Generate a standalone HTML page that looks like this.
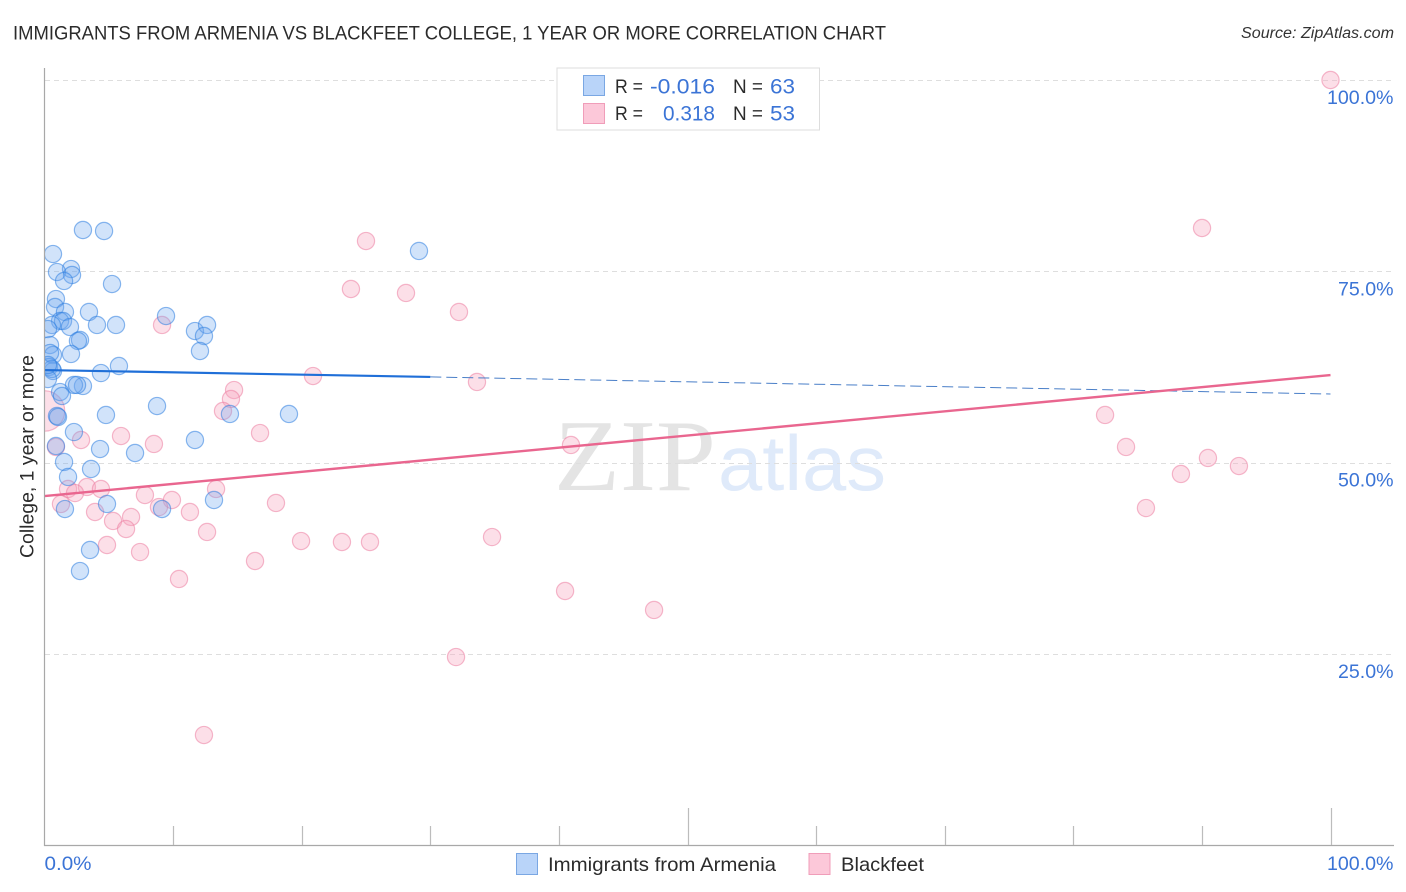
<!DOCTYPE html>
<html lang="en">
<head>
<meta charset="utf-8">
<title>Immigrants from Armenia vs Blackfeet College Correlation Chart</title>
<style>
html,body{margin:0;padding:0;background:#fff;width:1406px;height:892px;overflow:hidden}
svg{display:block;font-family:"Liberation Sans",sans-serif}
</style>
</head>
<body>
<svg id="chart" width="1406" height="892" viewBox="0 0 1406 892" xmlns="http://www.w3.org/2000/svg">
  <defs><clipPath id="plot-clip"><rect x="45" y="68" width="1349" height="777"/></clipPath></defs>
  <text x="13" y="39.5" font-size="19" fill="#2b2b2b" textLength="873" lengthAdjust="spacingAndGlyphs">IMMIGRANTS FROM ARMENIA VS BLACKFEET COLLEGE, 1 YEAR OR MORE CORRELATION CHART</text>
  <text x="1241" y="38" font-size="15.5" font-style="italic" fill="#333" textLength="153" lengthAdjust="spacingAndGlyphs">Source: ZipAtlas.com</text>
  <g id="watermark">
    <text x="554" y="490" font-family="'Liberation Serif',serif" font-size="102" fill="#e4e4e4" textLength="162" lengthAdjust="spacingAndGlyphs">ZIP</text>
    <text x="718" y="490" font-size="78" fill="#dfeafa" textLength="168" lengthAdjust="spacingAndGlyphs">atlas</text>
  </g>
  <g id="grid"></g>
  <g id="points" clip-path="url(#plot-clip)"></g>
  <g id="trends"></g>
  <g id="axes"></g>
  <g id="stat-legend">
    <rect x="557" y="68" width="262.5" height="62" fill="#fff" stroke="#ddd" stroke-width="1"/>
    <rect x="583.5" y="75.5" width="21" height="20" fill="#b9d4f9" stroke="#7aa7e3" stroke-width="1"/>
    <rect x="583.5" y="103.5" width="21" height="20" fill="#fcc8d9" stroke="#f09db9" stroke-width="1"/>
    <text x="615" y="93" font-size="19" fill="#2b2b2b" textLength="28" lengthAdjust="spacingAndGlyphs">R =</text>
    <text x="650" y="93.5" font-size="21" fill="#3b74d6" textLength="65" lengthAdjust="spacingAndGlyphs">-0.016</text>
    <text x="733" y="93" font-size="19" fill="#2b2b2b" textLength="30" lengthAdjust="spacingAndGlyphs">N =</text>
    <text x="770" y="93.5" font-size="21" fill="#3b74d6" textLength="25" lengthAdjust="spacingAndGlyphs">63</text>
    <text x="615" y="120" font-size="19" fill="#2b2b2b" textLength="28" lengthAdjust="spacingAndGlyphs">R =</text>
    <text x="663" y="120.5" font-size="21" fill="#3b74d6" textLength="52" lengthAdjust="spacingAndGlyphs">0.318</text>
    <text x="733" y="120" font-size="19" fill="#2b2b2b" textLength="30" lengthAdjust="spacingAndGlyphs">N =</text>
    <text x="770" y="120.5" font-size="21" fill="#3b74d6" textLength="25" lengthAdjust="spacingAndGlyphs">53</text>
  </g>
  <text transform="translate(33.5,456.5) rotate(-90)" font-size="19" fill="#2b2b2b" text-anchor="middle" textLength="203" lengthAdjust="spacingAndGlyphs">College, 1 year or more</text>
  <g id="series-legend">
    <rect x="516.5" y="853.5" width="21" height="21" fill="#b9d4f9" stroke="#7aa7e3" stroke-width="1"/>
    <text x="548" y="871" font-size="19.5" fill="#2b2b2b" textLength="228" lengthAdjust="spacingAndGlyphs">Immigrants from Armenia</text>
    <rect x="809" y="853.5" width="21" height="21" fill="#fcc8d9" stroke="#f09db9" stroke-width="1"/>
    <text x="841" y="871" font-size="19.5" fill="#2b2b2b" textLength="83" lengthAdjust="spacingAndGlyphs">Blackfeet</text>
  </g>
</svg>
<script>
const armeniaX = [2.99,4.63,0.66,2.06,0.97,2.14,1.52,5.25,0.89,0.82,1.59,3.46,1.21,1.44,4.08,5.56,1.98,0.58,0.27,2.76,2.60,0.43,2.06,0.66,0.43,0.35,0.66,0.58,5.79,4.39,0.27,2.99,2.29,2.53,1.21,1.36,4.78,0.97,1.05,8.75,9.45,11.70,12.64,12.40,12.09,14.42,19.01,29.12,11.70,7.04,4.32,2.29,0.89,1.52,3.62,1.83,4.86,1.59,13.18,9.14,3.54,2.76,0.27];
const armeniaY = [80.40,80.27,77.26,75.30,74.91,74.52,73.74,73.34,71.38,70.34,69.69,69.69,68.51,68.51,67.99,67.99,67.73,67.99,67.46,66.03,65.90,65.37,64.20,64.07,64.33,62.50,61.98,62.24,62.63,61.71,60.93,60.02,60.15,60.15,59.23,58.71,56.23,56.10,55.97,57.40,69.16,67.20,67.99,66.55,64.59,56.36,56.36,77.66,52.96,51.26,51.78,54.00,52.18,50.09,49.17,48.13,44.60,43.94,45.12,43.94,38.59,35.84,62.76];
const blackfeetX = [100,90.01,25.0,23.83,28.11,32.23,9.14,20.88,33.63,14.74,14.5,13.88,82.47,84.10,40.94,16.76,5.95,2.84,8.51,0.89,90.47,92.88,88.37,85.65,13.34,3.30,4.39,1.83,2.37,1.28,7.81,9.91,8.90,11.31,18.0,3.93,6.73,5.33,6.34,12.64,4.86,7.43,16.37,10.46,19.95,23.13,25.31,34.80,40.48,47.40,32.0,12.40,0];
const blackfeetY = [100,80.66,78.96,72.69,72.17,69.69,67.99,61.32,60.54,59.49,58.32,56.75,56.23,52.05,52.31,53.87,53.48,52.96,52.44,52.05,50.61,49.56,48.52,44.07,46.56,46.82,46.56,46.56,46.03,44.60,45.77,45.12,44.20,43.55,44.73,43.55,42.90,42.38,41.33,40.94,39.24,38.32,37.15,34.80,39.76,39.63,39.63,40.28,33.23,30.75,24.60,14.41,56.75];
const blackfeetWeight = [1,1,1,1,1,1,1,1,1,1,1,1,1,1,1,1,1,1,1,1,1,1,1,1,1,1,1,1,1,1,1,1,1,1,1,1,1,1,1,1,1,1,1,1,1,1,1,1,1,1,1,1,2.35];
const armeniaTrend = [62.1, 61.2, 58.97];
const armeniaTrendX = [0, 30, 100];
const blackfeetTrend = [45.64, 61.45];
const blackfeetTrendX = [0, 100];
const xTickValues = [0,10,20,30,40,50,60,70,80,90,100];
const xMajorTicks = [0,50,100];
const xEdgeValues = [0,100];
const xEdgeLabels = ["0.0%","100.0%"];
const yTickValues = [25,50,75,100];
const yTickLabels = ["25.0%","50.0%","75.0%","100.0%"];

const NS = "http://www.w3.org/2000/svg";
const xScale = v => 44.5 + 12.86 * v;
const yScale = v => 845.3 - 7.653 * v;
function make(parent, tag, attrs){
  const el = document.createElementNS(NS, tag);
  for (const k in attrs) el.setAttribute(k, attrs[k]);
  parent.appendChild(el);
  return el;
}
const gridG = document.getElementById("grid");
const axesG = document.getElementById("axes");
const pointsG = document.getElementById("points");
const trendsG = document.getElementById("trends");

function labelWidth(s){ return s.length === 6 ? 66.5 : 55.5; }

yTickValues.forEach((v,i) => {
  const y = Math.round(yScale(v)) + 0.5;
  const line = make(gridG, "line", {x1:45, x2:1393, y1:y, y2:y, stroke:"#dedede", "stroke-width":1, "stroke-dasharray":"5 4"});
  
  
  const w = labelWidth(yTickLabels[i]);
  const label = make(axesG, "text", {x:1393.5 - w, y:yScale(v)+24, "font-size":19, fill:"#3b74d6", textLength:w, lengthAdjust:"spacingAndGlyphs"});
  label.textContent = yTickLabels[i];
  
  
});

const leftAxis = make(axesG, "line", {x1:44.5, x2:44.5, y1:68, y2:846, stroke:"#a8a8a8", "stroke-width":1.2});


const bottomAxis = make(axesG, "line", {x1:44, x2:1394, y1:845.5, y2:845.5, stroke:"#a8a8a8", "stroke-width":1.2});



xTickValues.forEach(v => {
  if (v === 0) return;
  const x = Math.round(xScale(v)) + 0.5;
  const tick = make(axesG, "line", {x1:x, x2:x, y1:xMajorTicks.includes(v) ? 808 : 826, y2:845, stroke:"#bcbcbc", "stroke-width":1.2});
  
  
});
xEdgeValues.forEach((v,i) => {
  const w = i === 0 ? 47 : 66.5;
  const label = make(axesG, "text", {x: i === 0 ? xScale(v) : 1393.5 - w, y:870, "font-size":19, fill:"#3b74d6", textLength:w, lengthAdjust:"spacingAndGlyphs"});
  label.textContent = xEdgeLabels[i];
  
  
});

blackfeetX.forEach((v,i) => {
  const c = make(pointsG, "circle", {cx:xScale(v), cy:yScale(blackfeetY[i]), r:8.6*blackfeetWeight[i], fill:"#f8a5c0", "fill-opacity":0.36, stroke:"#ec7fa3", "stroke-opacity":0.55, "stroke-width":1.2});
  
  
});
armeniaX.forEach((v,i) => {
  const c = make(pointsG, "circle", {cx:xScale(v), cy:yScale(armeniaY[i]), r:8.6, fill:"#70a8ee", "fill-opacity":0.32, stroke:"#2f7fe0", "stroke-opacity":0.55, "stroke-width":1.2});
  
  
});

const armeniaSolid = make(trendsG, "line", {x1:xScale(armeniaTrendX[0]), y1:yScale(armeniaTrend[0]), x2:xScale(armeniaTrendX[1]), y2:yScale(armeniaTrend[1]), stroke:"#1f6fd8", "stroke-width":2.2});


const armeniaDash = make(trendsG, "line", {x1:xScale(armeniaTrendX[1]), y1:yScale(armeniaTrend[1]), x2:xScale(armeniaTrendX[2]), y2:yScale(armeniaTrend[2]), stroke:"#4a7fc8", "stroke-width":1, "stroke-dasharray":"11 5"});


const blackfeetLine = make(trendsG, "line", {x1:xScale(blackfeetTrendX[0]), y1:yScale(blackfeetTrend[0]), x2:xScale(blackfeetTrendX[1]), y2:yScale(blackfeetTrend[1]), stroke:"#e9668f", "stroke-width":2.4});


</script>
</body>
</html>
